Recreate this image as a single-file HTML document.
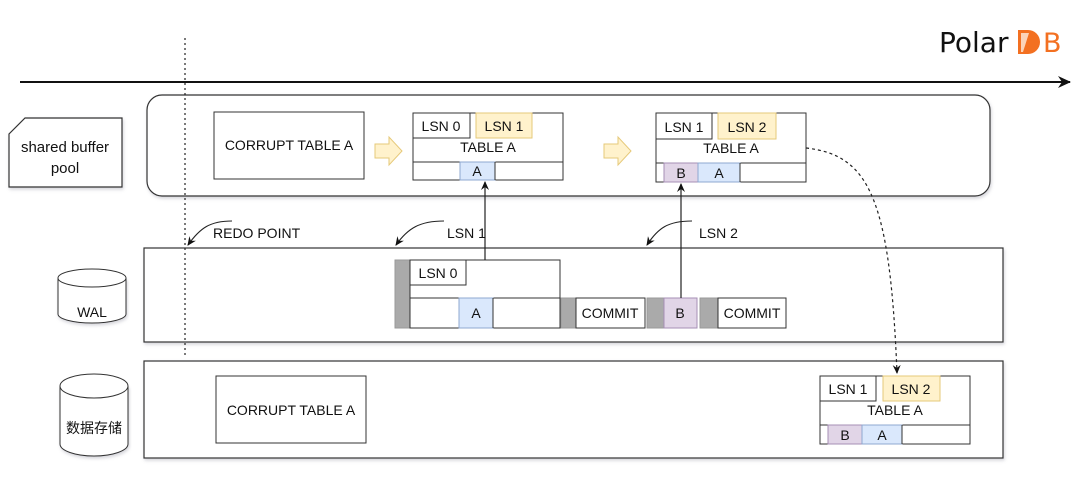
<!DOCTYPE html>
<html><head><meta charset="utf-8"><style>
html,body{margin:0;padding:0;background:#fff;}
svg{display:block;}
text{font-family:"Liberation Sans","Noto Sans CJK SC",sans-serif;fill:#111;}
</style></head><body>
<svg width="1080" height="489" viewBox="0 0 1080 489" xmlns="http://www.w3.org/2000/svg">
<defs>
<marker id="ah" markerWidth="10" markerHeight="10" refX="8" refY="5" orient="auto" markerUnits="userSpaceOnUse"><path d="M0,1 L9,5 L0,9 L3,5 Z" fill="#111"/></marker>
<marker id="ahb" markerWidth="14" markerHeight="14" refX="12" refY="7" orient="auto" markerUnits="userSpaceOnUse"><path d="M0,1 L13,7 L0,13 L4,7 Z" fill="#111"/></marker>
<filter id="sh" x="-5%" y="-5%" width="110%" height="120%"><feDropShadow dx="1" dy="2" stdDeviation="1.5" flood-color="#889" flood-opacity="0.35"/></filter>
</defs>
<!-- logo -->
<text x="939" y="52" font-size="28" style="font-family:'DejaVu Sans','Liberation Sans',sans-serif">Polar</text>
<path d="M1018,30 h10 a12,12 0 0 1 0,24 h-10 Z" fill="#f37021"/>
<path d="M1021,33 l8,0 l-6,19 l-2,0 z" fill="#fbd3b8"/>
<text x="1043" y="52" font-size="27" style="font-family:'DejaVu Sans','Liberation Sans',sans-serif;fill:#f37021">B</text>
<!-- time arrow -->
<line x1="20" y1="82" x2="1070" y2="82" stroke="#111" stroke-width="2" marker-end="url(#ahb)"/>
<!-- shared buffer pool -->
<path d="M25,118 H122 V187 H9 V134 Z" fill="#fff" stroke="#333" stroke-width="1.2" filter="url(#sh)"/>
<text x="65" y="152" font-size="15" text-anchor="middle">shared buffer</text>
<text x="65" y="173" font-size="15" text-anchor="middle">pool</text>
<rect x="147" y="95" width="843" height="101" rx="15" fill="#fff" stroke="#333" stroke-width="1.2" filter="url(#sh)"/>
<rect x="214" y="112" width="150" height="67" fill="#fff" stroke="#333"/>
<text x="289" y="150" font-size="14" text-anchor="middle">CORRUPT TABLE A</text>
<!-- yellow arrows -->
<path d="M375,144 h14 v-7 l13,14 l-13,14 v-7 h-14 z" fill="#fff2cc" stroke="#e6c97a"/>
<path d="M604,144 h14 v-7 l13,14 l-13,14 v-7 h-14 z" fill="#fff2cc" stroke="#e6c97a"/>
<!-- table1 -->
<rect x="413" y="113" width="150" height="67" fill="#fff" stroke="#333"/>
<rect x="413" y="113" width="57" height="25" fill="#fff" stroke="#333"/>
<text x="441" y="131" font-size="14" text-anchor="middle">LSN 0</text>
<rect x="476" y="113" width="56" height="25" fill="#fff2cc" stroke="#e6c97a"/>
<text x="504" y="131" font-size="14" text-anchor="middle">LSN 1</text>
<text x="488" y="152" font-size="14" text-anchor="middle">TABLE A</text>
<line x1="413" y1="162" x2="563" y2="162" stroke="#333"/>
<rect x="460" y="162" width="35" height="18" fill="#dae8fc" stroke="#8fa8d0"/>
<text x="477" y="176" font-size="14" text-anchor="middle">A</text>
<line x1="495" y1="162" x2="495" y2="180" stroke="#333"/>
<!-- table2 -->
<rect x="656" y="113" width="150" height="69" fill="#fff" stroke="#333"/>
<rect x="656" y="113" width="56" height="26" fill="#fff" stroke="#333"/>
<text x="684" y="132" font-size="14" text-anchor="middle">LSN 1</text>
<rect x="718" y="113" width="58" height="26" fill="#fff2cc" stroke="#e6c97a"/>
<text x="747" y="132" font-size="14" text-anchor="middle">LSN 2</text>
<text x="731" y="153" font-size="14" text-anchor="middle">TABLE A</text>
<line x1="656" y1="163" x2="806" y2="163" stroke="#333"/>
<rect x="664" y="163" width="34" height="19" fill="#e1d5e7" stroke="#a68fb5"/>
<text x="681" y="178" font-size="14" text-anchor="middle">B</text>
<rect x="698" y="163" width="42" height="19" fill="#dae8fc" stroke="#8fa8d0"/>
<text x="719" y="178" font-size="14" text-anchor="middle">A</text>
<line x1="740" y1="163" x2="740" y2="182" stroke="#333"/>
<!-- WAL -->
<rect x="144" y="248" width="859" height="94" fill="#fff" stroke="#333" stroke-width="1.2" filter="url(#sh)"/>
<path d="M58,278 v36 a34,9 0 0 0 68,0 v-36" fill="#fff" stroke="#333" filter="url(#sh)"/>
<ellipse cx="92" cy="278" rx="34" ry="9" fill="#fff" stroke="#333"/>
<text x="92" y="317" font-size="14" text-anchor="middle">WAL</text>
<rect x="395" y="260" width="15" height="68" fill="#aaa" stroke="#999"/>
<rect x="410" y="260" width="150" height="68" fill="#fff" stroke="#333"/>
<rect x="410" y="260" width="56" height="25" fill="#fff" stroke="#333"/>
<text x="438" y="278" font-size="14" text-anchor="middle">LSN 0</text>
<line x1="410" y1="298" x2="560" y2="298" stroke="#333"/>
<rect x="459" y="298" width="34" height="30" fill="#dae8fc" stroke="#8fa8d0"/>
<text x="476" y="318" font-size="14" text-anchor="middle">A</text>
<line x1="493" y1="298" x2="493" y2="328" stroke="#333"/>
<rect x="561" y="298" width="15" height="30" fill="#aaa" stroke="#999"/>
<rect x="576" y="298" width="69" height="30" fill="#fff" stroke="#333"/>
<text x="610" y="318" font-size="14" text-anchor="middle">COMMIT</text>
<rect x="647" y="298" width="17" height="30" fill="#aaa" stroke="#999"/>
<rect x="664" y="298" width="33" height="30" fill="#e1d5e7" stroke="#a68fb5"/>
<text x="680" y="318" font-size="14" text-anchor="middle">B</text>
<rect x="700" y="298" width="18" height="30" fill="#aaa" stroke="#999"/>
<rect x="718" y="298" width="68" height="30" fill="#fff" stroke="#333"/>
<text x="752" y="318" font-size="14" text-anchor="middle">COMMIT</text>
<!-- vertical arrows -->
<line x1="485" y1="260" x2="485" y2="182" stroke="#222" stroke-width="1.2" marker-end="url(#ah)"/>
<line x1="681" y1="298" x2="681" y2="184" stroke="#222" stroke-width="1.2" marker-end="url(#ah)"/>
<!-- labels with curved arrows -->
<text x="213" y="238" font-size="14">REDO POINT</text>
<path d="M232,221 C210,221 200,228 188,245" fill="none" stroke="#222" stroke-width="1.1" marker-end="url(#ah)"/>
<text x="447" y="238" font-size="14">LSN 1</text>
<path d="M444,221 C420,221 408,228 396,245" fill="none" stroke="#222" stroke-width="1.1" marker-end="url(#ah)"/>
<text x="699" y="238" font-size="14">LSN 2</text>
<path d="M692,221 C668,221 658,228 647,245" fill="none" stroke="#222" stroke-width="1.1" marker-end="url(#ah)"/>
<!-- storage -->
<rect x="144" y="361" width="859" height="97" fill="#fff" stroke="#333" stroke-width="1.2" filter="url(#sh)"/>
<path d="M60,386 v58 a34,12 0 0 0 68,0 v-58" fill="#fff" stroke="#333" filter="url(#sh)"/>
<ellipse cx="94" cy="386" rx="34" ry="12" fill="#fff" stroke="#333"/>
<text x="94" y="433" font-size="14" text-anchor="middle">数据存储</text>
<rect x="216" y="376" width="150" height="67" fill="#fff" stroke="#333"/>
<text x="291" y="415" font-size="14" text-anchor="middle">CORRUPT TABLE A</text>
<rect x="820" y="376" width="150" height="68" fill="#fff" stroke="#333"/>
<rect x="820" y="376" width="56" height="25" fill="#fff" stroke="#333"/>
<text x="848" y="394" font-size="14" text-anchor="middle">LSN 1</text>
<rect x="883" y="376" width="57" height="25" fill="#fff2cc" stroke="#e6c97a"/>
<text x="911" y="394" font-size="14" text-anchor="middle">LSN 2</text>
<text x="895" y="415" font-size="14" text-anchor="middle">TABLE A</text>
<line x1="820" y1="425" x2="970" y2="425" stroke="#333"/>
<rect x="828" y="425" width="34" height="19" fill="#e1d5e7" stroke="#a68fb5"/>
<text x="845" y="440" font-size="14" text-anchor="middle">B</text>
<rect x="862" y="425" width="40" height="19" fill="#dae8fc" stroke="#8fa8d0"/>
<text x="882" y="440" font-size="14" text-anchor="middle">A</text>
<line x1="902" y1="425" x2="902" y2="444" stroke="#333"/>
<!-- dashed curve -->
<path d="M806,148 C870,155 890,200 897,373" fill="none" stroke="#222" stroke-width="1.2" stroke-dasharray="3,3" marker-end="url(#ah)"/>
<!-- dotted vertical -->
<line x1="185" y1="38" x2="185" y2="358" stroke="#222" stroke-width="1.2" stroke-dasharray="2,3"/>
</svg>
</body></html>
